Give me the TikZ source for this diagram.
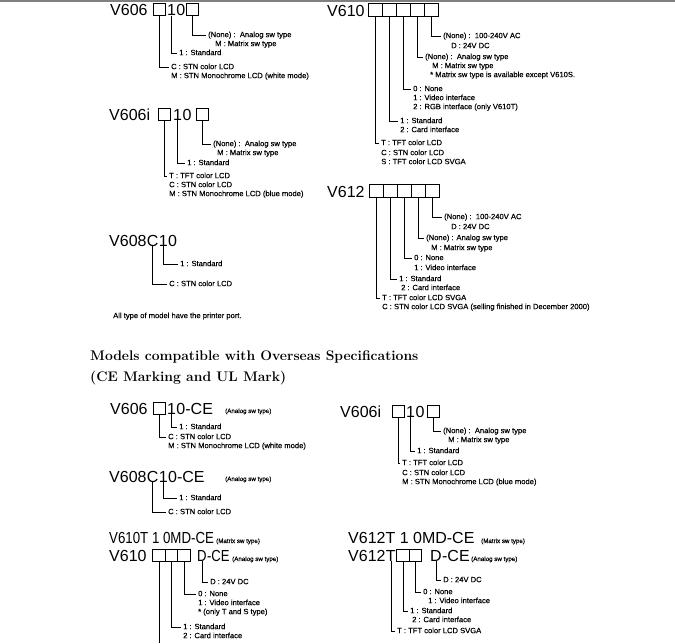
\documentclass[tikz,border=0pt]{standalone}
\usepackage{fontspec}
\usepackage{graphicx}
\newfontfamily\hel{Liberation Sans}
\newfontfamily\hels[FakeBold=0.35]{Liberation Sans}
\begin{document}
\begin{tikzpicture}[x=1pt,y=-1pt,
  big/.style={font=\hel\fontsize{16}{16}\selectfont, inner sep=0pt, anchor=base west},
  lbl/.style={font=\hels\fontsize{7.6}{9}\selectfont, inner sep=0pt, anchor=mid west},
  note/.style={font=\hels\fontsize{6.2}{8}\selectfont, inner sep=0pt, anchor=base west},
  sq/.style={draw, line width=0.7pt, minimum width=12pt, minimum height=12pt, inner sep=0pt},
  sqw/.style={sq, minimum width=14pt, minimum height=13pt},
  conn/.style={line width=0.65pt, shorten >=2pt},
  head/.style={font=\fontsize{13.9}{16}\selectfont\bfseries, inner sep=0pt, anchor=base west}]
\useasboundingbox (0,0) rectangle (675,643);
\draw[gray, line width=1.5pt] (0,1) -- (675,1);

% ---------- V606 []10[]
\node[big] (t1) at (110,15.5) {V606};
\node[sq] (b11) at (159,9.5) {};
\node[big] (c11) at (167,15.5) {1};
\node[big] (c10) at (c11.base east) {0};
\node[sq] (b12) at (192.5,9.5) {};
\node[lbl] (l1a) at (208,35) {(None) :\ \ Analog sw type};
\node[lbl] (l1b) at (215,44) {M : Matrix sw type};
\node[lbl] (l1c) at (179,53) {1 : Standard};
\node[lbl] (l1d) at (171,67) {C : STN color LCD};
\node[lbl] (l1e) at (171,76) {M : STN Monochrome LCD (white mode)};
\draw[conn] (b12.south) |- (l1a.mid west);
\draw[conn] (c11.south) |- (l1c.mid west);
\draw[conn] (b11.south) |- (l1d.mid west);

% ---------- V610 [][][][][]
\node[big] (t2) at (327,16.5) {V610};
\foreach \i/\x in {1/375,2/389,3/403,4/417,5/431} \node[sqw] (b2\i) at (\x,10) {};
\node[lbl] (l25a) at (443,36) {(None) :\ \ 100-240V AC};
\node[lbl] (l25b) at (451,46) {D : 24V DC};
\node[lbl] (l24a) at (425,57) {(None) :\ \ Analog sw type};
\node[lbl] (l24b) at (432,66) {M : Matrix sw type};
\node[lbl] (l24c) at (430,75) {* Matrix sw type is available except V610S.};
\node[lbl] (l23a) at (413,89) {0 : None};
\node[lbl] (l23b) at (413,98) {1 : Video interface};
\node[lbl] (l23c) at (413,107) {2 : RGB interface (only V610T)};
\node[lbl] (l22a) at (400,121) {1 : Standard};
\node[lbl] (l22b) at (400,130) {2 : Card interface};
\node[lbl] (l21a) at (381,143) {T : TFT color LCD};
\node[lbl] (l21b) at (381,153) {C : STN color LCD};
\node[lbl] (l21c) at (381,162) {S : TFT color LCD SVGA};
\draw[conn] (b25.south) |- (l25a.mid west);
\draw[conn] (b24.south) |- (l24a.mid west);
\draw[conn] (b23.south) |- (l23a.mid west);
\draw[conn] (b22.south) |- (l22a.mid west);
\draw[conn] (b21.south) |- (l21a.mid west);

% ---------- V606i []10[]
\node[big] (t3) at (109,120) {V606i};
\node[sq] (b31) at (164.5,114) {};
\node[big] (c31) at (173,120) {1};
\node[big] (c30) at (c31.base east) {0};
\node[sq] (b32) at (202,114) {};
\node[lbl] (l3a) at (213,144) {(None) :\ \ Analog sw type};
\node[lbl] (l3b) at (217,153) {M : Matrix sw type};
\node[lbl] (l3c) at (187,163) {1 : Standard};
\node[lbl] (l3d) at (169,176) {T : TFT color LCD};
\node[lbl] (l3e) at (169,185) {C : STN color LCD};
\node[lbl] (l3f) at (169,194) {M : STN Monochrome LCD (blue mode)};
\draw[conn] (b32.south) |- (l3a.mid west);
\draw[conn] (c31.south) |- (l3c.mid west);
\draw[conn] (b31.south) |- (l3d.mid west);

% ---------- V608C10
\node[big] (t4) at (109,246) {V608};
\node[big] (c4c) at (t4.base east) {C};
\node[big] (c41) at (c4c.base east) {1};
\node[big] (c40) at (c41.base east) {0};
\node[lbl] (l4a) at (180,264) {1 : Standard};
\node[lbl] (l4b) at (169,284) {C : STN color LCD};
\draw[conn] (c41.south) |- (l4a.mid west);
\draw[conn] (c4c.south) |- (l4b.mid west);
\node[lbl] (nt) at (113,316) {All type of model have the printer port.};

% ---------- V612 [][][][][]
\node[big] (t5) at (327,197) {V612};
\foreach \i/\x in {1/376,2/390,3/404,4/418,5/432} \node[sqw] (b5\i) at (\x,190.5) {};
\node[lbl] (l55a) at (444,217) {(None) :\ \ 100-240V AC};
\node[lbl] (l55b) at (451,227) {D : 24V DC};
\node[lbl] (l54a) at (426,238) {(None) : Analog sw type};
\node[lbl] (l54b) at (431,248) {M : Matrix sw type};
\node[lbl] (l53a) at (414,258) {0 : None};
\node[lbl] (l53b) at (414,268) {1 : Video interface};
\node[lbl] (l52a) at (399,279) {1 : Standard};
\node[lbl] (l52b) at (401,288) {2 : Card interface};
\node[lbl] (l51a) at (382,298) {T : TFT color LCD SVGA};
\node[lbl] (l51b) at (382,307) {C : STN color LCD SVGA (selling finished in December 2000)};
\draw[conn] (b55.south) |- (l55a.mid west);
\draw[conn] (b54.south) |- (l54a.mid west);
\draw[conn] (b53.south) |- (l53a.mid west);
\draw[conn] (b52.south) |- (l52a.mid west);
\draw[conn] (b51.south) |- (l51a.mid west);

% ---------- heading
\node[head] (h1) at (90,360) {Models compatible with Overseas Specifications};
\node[head] (h2) at (90,381) {(CE Marking and UL Mark)};

% ---------- V606 []10-CE
\node[big] (t6) at (110,414) {V606};
\node[sq] (b61) at (159,408) {};
\node[big] (c61) at (167,414) {1};
\node[big] (c60) at (c61.base east) {0-CE};
\node[note] (n6) at (225,413) {(Analog sw type)};
\node[lbl] (l6a) at (179,427) {1 : Standard};
\node[lbl] (l6b) at (168,437) {C : STN color LCD};
\node[lbl] (l6c) at (168,446) {M : STN Monochrome LCD (white mode)};
\draw[conn] (c61.south) |- (l6a.mid west);
\draw[conn] (b61.south) |- (l6b.mid west);

% ---------- V608C10-CE
\node[big] (t7) at (109,482) {V608};
\node[big] (c7c) at (t7.base east) {C};
\node[big] (c71) at (c7c.base east) {1};
\node[big] (c70) at (c71.base east) {0-CE};
\node[note] (n7) at (225,481) {(Analog sw type)};
\node[lbl] (l7a) at (179,498) {1 : Standard};
\node[lbl] (l7b) at (168,512) {C : STN color LCD};
\draw[conn] (c71.south) |- (l7a.mid west);
\draw[conn] (c7c.south) |- (l7b.mid west);

% ---------- V606i []10[] (CE)
\node[big] (t8) at (340,417) {V606i};
\node[sq] (b81) at (398,411) {};
\node[big] (c81) at (406,417) {1};
\node[big] (c80) at (c81.base east) {0};
\node[sq] (b82) at (433,411) {};
\node[lbl] (l8a) at (443,431) {(None) :\ \ Analog sw type};
\node[lbl] (l8b) at (448,440) {M : Matrix sw type};
\node[lbl] (l8c) at (417,451) {1 : Standard};
\node[lbl] (l8d) at (402,463) {T : TFT color LCD};
\node[lbl] (l8e) at (402,473) {C : STN color LCD};
\node[lbl] (l8f) at (402,482) {M : STN Monochrome LCD (blue mode)};
\draw[conn] (b82.south) |- (l8a.mid west);
\draw[conn] (c81.south) |- (l8c.mid west);
\draw[conn] (b81.south) |- (l8d.mid west);

% ---------- V610 CE
\node[big] (t9) at (109,543) {\scalebox{0.83}[1]{V610T 1 0MD-CE}};
\node[note] (n9) at (216,543) {(Matrix sw type)};
\node[big] (t9b) at (109,561) {V610};
\foreach \i/\x in {1/159,2/171.5,3/184} \node[sq, minimum width=12.5pt] (b9\i) at (\x,555) {};
\node[big] (c9d) at (197,561) {\scalebox{0.82}[1]{D}};
\node[big] (c9e) at (c9d.base east) {\scalebox{0.82}[1]{-CE}};
\node[note] (n9b) at (232,561) {(Analog sw type)};
\node[lbl] (l9a) at (210,582) {D : 24V DC};
\node[lbl] (l9b) at (198,594) {0 : None};
\node[lbl] (l9c) at (198,603) {1 : Video interface};
\node[lbl] (l9d) at (198,612) {* (only T and S type)};
\node[lbl] (l9e) at (183,627) {1 : Standard};
\node[lbl] (l9f) at (183,636) {2 : Card interface};
\coordinate (e9) at (159,643);
\draw[conn] (c9d.south) |- (l9a.mid west);
\draw[conn] (b93.south) |- (l9b.mid west);
\draw[conn] (b92.south) |- (l9e.mid west);
\draw[line width=0.65pt] (b91.south) -- (b91.south |- e9);

% ---------- V612 CE
\node[big] (t10) at (348,543) {V612T 1 0MD-CE};
\node[note] (n10) at (481,543) {(Matrix sw type)};
\node[big] (t10b) at (348,561) {V612};
\node[big] (c10t) at (t10b.base east) {T};
\node[sq, minimum width=12.5pt] (b101) at (403,555) {};
\node[sq, minimum width=12.5pt] (b102) at (415.5,555) {};
\node[big] (c10d) at (430,561) {D};
\node[big] (c10e) at (c10d.base east) {-CE};
\node[note] (n10b) at (471,561) {(Analog sw type)};
\node[lbl] (l10a) at (443,580) {D : 24V DC};
\node[lbl] (l10b) at (423,592) {0 : None};
\node[lbl] (l10c) at (428,601) {1 : Video interface};
\node[lbl] (l10d) at (410,611) {1 : Standard};
\node[lbl] (l10e) at (412,620) {2 : Card interface};
\node[lbl] (l10f) at (397,631) {T : TFT color LCD SVGA};
\draw[conn] (c10d.south) |- (l10a.mid west);
\draw[conn] (b102.south) |- (l10b.mid west);
\draw[conn] (b101.south) |- (l10d.mid west);
\draw[conn] (c10t.south) |- (l10f.mid west);
\end{tikzpicture}
\end{document}
